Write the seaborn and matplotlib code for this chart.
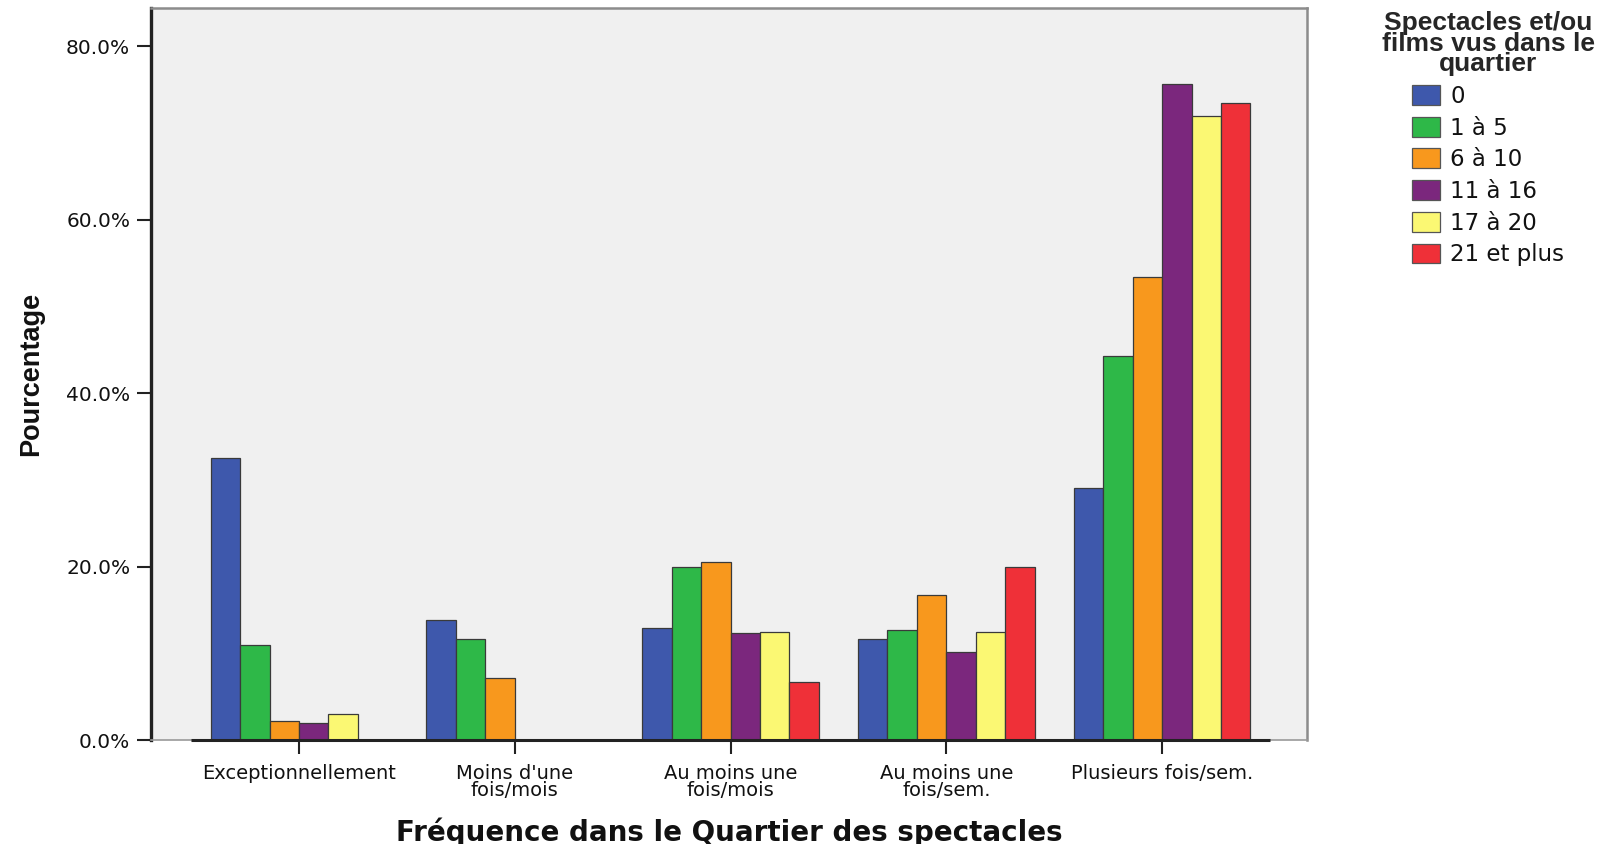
import matplotlib
matplotlib.use("Agg")
import matplotlib.pyplot as plt
import seaborn as sns
import pandas as pd
from matplotlib.ticker import FuncFormatter
from matplotlib import font_manager

# ---- data ----
categories = ["Exceptionnellement", "Moins d'une\nfois/mois", "Au moins une\nfois/mois",
              "Au moins une\nfois/sem.", "Plusieurs fois/sem."]
groups = ["0", "1 à 5", "6 à 10", "11 à 16", "17 à 20", "21 et plus"]
vals_0 = [32.5, 13.8, 12.9, 11.6, 29.1]
vals_1_5 = [11.0, 11.7, 20.0, 12.7, 44.3]
vals_6_10 = [2.2, 7.2, 20.5, 16.7, 53.4]
vals_11_16 = [2.0, 0.0, 12.3, 10.2, 75.6]
vals_17_20 = [3.0, 0.0, 12.5, 12.5, 72.0]
vals_21 = [0.0, 0.0, 6.7, 20.0, 73.5]
yticks = [0, 20, 40, 60, 80]
colors = ["#3E58AC", "#2EB848", "#F8981D", "#7B277D", "#FBF873", "#EF3038"]
legend_title = "Spectacles et/ou\nfilms vus dans le\nquartier"
xlabel = "Fréquence dans le Quartier des spectacles"
ylabel = "Pourcentage"

series = [vals_0, vals_1_5, vals_6_10, vals_11_16, vals_17_20, vals_21]
rows = []
for g, vals in zip(groups, series):
    for c, v in zip(categories, vals):
        rows.append({"freq": c, "pct": v, "group": g})
df = pd.DataFrame(rows)

sns.set_style("white")
plt.rcParams["font.family"] = ["DejaVu Sans"]

names = {f.name for f in font_manager.fontManager.ttflist}
if "Liberation Sans Narrow" in names:
    ylab_font = {"family": "Liberation Sans Narrow", "size": 22}
else:
    ylab_font = {"family": "Liberation Sans", "size": 19.5}

W, H = 1602, 844
fig = plt.figure(figsize=(W / 100, H / 100), dpi=100)
fig.patch.set_facecolor("white")
ax = fig.add_axes([151 / W, 1 - 740 / H, (1307 - 151) / W, (740 - 8.5) / H])
ax.set_facecolor("#F0F0F0")

sns.barplot(data=df, x="freq", y="pct", hue="group", order=categories, hue_order=groups,
            palette=colors, saturation=1, width=0.82, errorbar=None,
            edgecolor="#3a3a3a", linewidth=0.9, ax=ax)

ax.set_xlim(-0.686, len(categories) - 1 + 0.672)
ax.set_ylim(0, 84.35)
ax.set_yticks(yticks)
ax.yaxis.set_major_formatter(FuncFormatter(lambda v, p: f"{v:.1f}%"))

# spines
ax.spines["left"].set_color("#222222")
ax.spines["left"].set_linewidth(2.4)
for s in ["top", "right"]:
    ax.spines[s].set_color("#8c8c8c")
    ax.spines[s].set_linewidth(1.8)
ax.spines["bottom"].set_color("#9a9a9a")
ax.spines["bottom"].set_linewidth(1.2)
ax.hlines(0, -0.5, len(categories) - 0.5, color="#222222", linewidth=2.2, zorder=5, clip_on=False)

ax.tick_params(axis="y", length=10, width=1.5, color="#222222", pad=5,
               labelsize=14.5, labelcolor="#111111", left=True)
ax.tick_params(axis="x", length=10, width=1.5, color="#222222", pad=7,
               labelsize=14, labelcolor="#111111", bottom=True)
for t in ax.get_xticklabels():
    t.set_linespacing(0.92)

ax.set_xlabel(xlabel, fontsize=20, fontweight="bold", color="#111111", labelpad=12)
ax.set_ylabel(ylabel, fontweight="bold", color="#111111", labelpad=16, **{
    "fontsize": ylab_font["size"], "family": [ylab_font["family"], "DejaVu Sans"]})

handles, labels = ax.get_legend_handles_labels()
ax.get_legend().remove()
leg = ax.legend(handles, labels, title=legend_title, loc="upper center",
                bbox_to_anchor=(1488 / W, 1 - 11 / H), bbox_transform=fig.transFigure,
                frameon=False, fontsize=16.5, borderpad=0, borderaxespad=0,
                handlelength=1.22, handleheight=0.96, handletextpad=0.45,
                labelspacing=0.38,
                title_fontproperties={"family": "Liberation Sans", "weight": "bold", "size": 19})
leg.get_title().set_multialignment("center")
leg.get_title().set_linespacing(0.82)
for p in leg.get_patches():
    p.set_edgecolor("#555555")
    p.set_linewidth(0.9)
for t in leg.get_texts():
    t.set_color("#111111")

fig.savefig("out.png", dpi=100, facecolor="white")
